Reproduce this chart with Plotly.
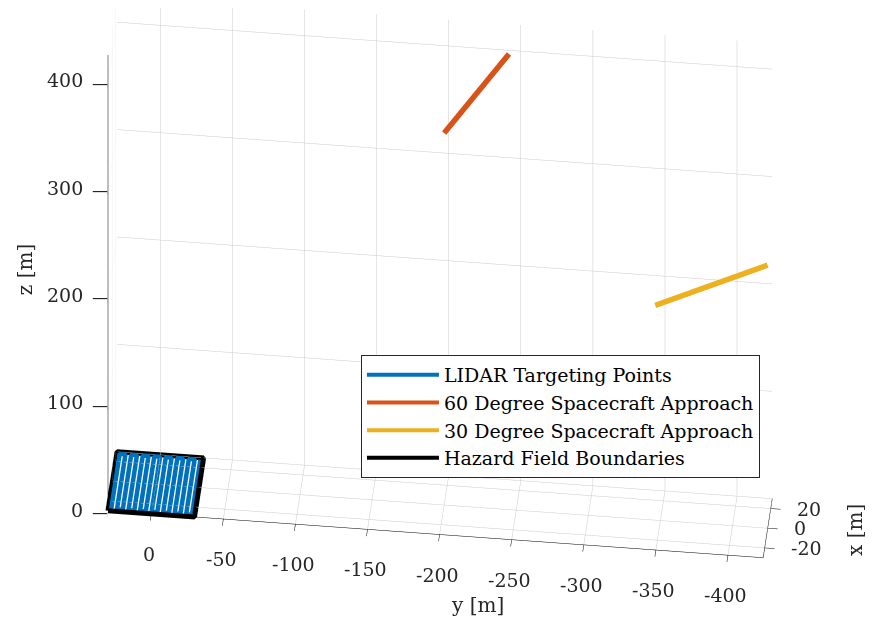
import plotly.graph_objects as go

# ---------------- data ----------------
# LIDAR raster (serpentine) inside the hazard field, z = 0
lidar_x = [-28, 28, 28, -28, -28, 28, 28, -28, -28, 28, 28, -28, -28, 28, 28,
           -28, -28, 28, 28, -28, -28, 28, 28, -28, -28, 28, 28, -28, -28, 28]
lidar_y = [28, 28, 24, 24, 20, 20, 16, 16, 12, 12, 8, 8, 4, 4, 0,
           0, -4, -4, -8, -8, -12, -12, -16, -16, -20, -20, -24, -24, -28, -28]
lidar_z = [0] * 30

# 60 degree approach (x = 0 plane)
app60_x = [0, 0]
app60_y = [-200.0, -245.0]
app60_z = [346.4, 424.4]

# 30 degree approach (x = 0 plane)
app30_x = [0, 0]
app30_y = [-346.4, -424.4]
app30_z = [200.0, 245.0]

# hazard field boundary
haz_x = [-30, 30, 30, -30, -30]
haz_y = [30, 30, -30, -30, 30]
haz_z = [0, 0, 0, 0, 0]

x_ticks = [-20, 0, 20]
y_ticks = [0, -50, -100, -150, -200, -250, -300, -350, -400]
z_ticks = [0, 100, 200, 300, 400]
x_range = [-30, 30]
y_range = [-424.4, 30]
z_range = [0, 424.4]

names = ["LIDAR Targeting Points", "60 Degree Spacecraft Approach",
         "30 Degree Spacecraft Approach", "Hazard Field Boundaries"]
colors = ["#0072BD", "#D95319", "#EDB120", "#000000"]

FONT = "DejaVu Serif"
TXT = "#262626"
FS = 19

series = [
    (lidar_x, lidar_y, lidar_z, 9),
    (app60_x, app60_y, app60_z, 11),
    (app30_x, app30_y, app30_z, 11),
    (haz_x, haz_y, haz_z, 10),
]

fig = go.Figure()
for i, (sx, sy, sz, w) in enumerate(series):
    fig.add_trace(go.Scatter3d(x=sx, y=sy, z=sz, mode="lines",
                               line=dict(color=colors[i], width=w), name=names[i],
                               legendgroup=names[i], showlegend=False))
# legend entries (thin sample lines as in the original legend)
for i in range(4):
    fig.add_trace(go.Scatter3d(x=[None], y=[None], z=[None], mode="lines",
                               line=dict(color=colors[i], width=4), name=names[i],
                               legendgroup=names[i], showlegend=True))

axis_common = dict(
    showbackground=False, showgrid=True, gridcolor="#cbcbcb", gridwidth=1,
    showline=True, linecolor="#000000", linewidth=1,
    ticks="outside", ticklen=10, tickcolor="#000000",
    showticklabels=False,
    zeroline=False, showspikes=False, title=dict(text=""),
)

# tick labels / titles placed at data coordinates in the scene
ann = []
for v in y_ticks:
    ann.append(dict(x=x_range[0], y=v, z=0, text=str(v), showarrow=False,
                    xanchor="center", yanchor="middle", xshift=-2, yshift=-40,
                    font=dict(family=FONT, size=FS, color=TXT)))
for v in z_ticks:
    # outward tick mark on the z axis
    ann.append(dict(x=x_range[0], y=y_range[1], z=v, text="\u2014", showarrow=False,
                    xanchor="right", yanchor="middle", xshift=2, yshift=-2,
                    font=dict(family="DejaVu Sans", size=16, color=TXT)))
    ann.append(dict(x=x_range[0], y=y_range[1], z=v, text=str(v), showarrow=False,
                    xanchor="right", yanchor="middle", xshift=-23, yshift=1,
                    font=dict(family=FONT, size=FS, color=TXT)))
for v in x_ticks:
    ann.append(dict(x=v, y=y_range[0], z=0, text=str(v), showarrow=False,
                    xanchor="left", yanchor="middle", xshift=24, yshift=0,
                    font=dict(family=FONT, size=FS, color=TXT)))
ann.append(dict(x=x_range[0], y=-226, z=0, text="y [m]", showarrow=False,
                xanchor="center", yanchor="middle", yshift=-68,
                font=dict(family=FONT, size=FS + 1, color=TXT)))
ann.append(dict(x=0, y=y_range[0], z=0, text="x [m]", showarrow=False,
                xanchor="center", yanchor="middle", xshift=88, yshift=-2,
                textangle=-90, font=dict(family=FONT, size=FS + 1, color=TXT)))
ann.append(dict(x=x_range[0], y=y_range[1], z=224, text="z [m]", showarrow=False,
                xanchor="center", yanchor="middle", xshift=-83,
                textangle=-90, font=dict(family=FONT, size=FS + 1, color=TXT)))

K = 2.108
ZK = 1.013
span = y_range[1] - y_range[0]
L = 1.52
d = (-0.727, -0.0764, 0.682)
cen = (0, -0.0141, -0.1896)
fig.update_layout(
    width=873, height=625,
    margin=dict(l=0, r=0, t=0, b=0),
    paper_bgcolor="white",
    font=dict(family=FONT, size=FS, color=TXT),
    scene=dict(
        domain=dict(x=[0, 1], y=[0, 1]),
        aspectmode="manual",
        aspectratio=dict(x=K * (x_range[1] - x_range[0]) / span, y=K,
                         z=ZK * K * (z_range[1] - z_range[0]) / span),
        xaxis=dict(axis_common, range=x_range, tickvals=x_ticks),
        yaxis=dict(axis_common, range=y_range, tickvals=y_ticks),
        zaxis=dict(axis_common, range=z_range, tickvals=z_ticks),
        annotations=ann,
        camera=dict(
            projection=dict(type="orthographic"),
            up=dict(x=0, y=0, z=1),
            center=dict(x=cen[0], y=cen[1], z=cen[2]),
            eye=dict(x=cen[0] + L * d[0], y=cen[1] + L * d[1], z=cen[2] + L * d[2]),
        ),
    ),
    legend=dict(
        x=0.4043, y=0.445, xanchor="left", yanchor="top",
        bgcolor="white", bordercolor=TXT, borderwidth=1,
        font=dict(family=FONT, size=FS, color="#000000"),
        itemwidth=72, tracegroupgap=0,
    ),
)

fig.write_html("out.html")
